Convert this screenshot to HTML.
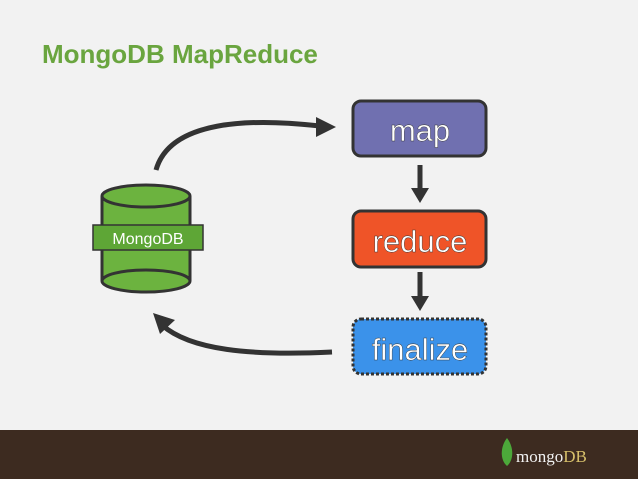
<!DOCTYPE html>
<html><head><style>
body{margin:0;width:638px;height:479px;background:#f2f2f2;overflow:hidden;font-family:"Liberation Sans",sans-serif;}
</style></head><body>
<svg width="638" height="479" xmlns="http://www.w3.org/2000/svg" style="position:absolute;left:0;top:0">
<rect width="638" height="479" fill="#f2f2f2"/>
<text x="42" y="63" font-family="Liberation Sans, sans-serif" font-weight="bold" font-size="26" fill="#6aa53f">MongoDB MapReduce</text>
<path d="M156 170 C170 120 250 118 320 126" fill="none" stroke="#333" stroke-width="5"/>
<polygon points="336,127 316,117 316,137" fill="#333"/>
<path d="M332 352 C250 356 190 350 162 325" fill="none" stroke="#333" stroke-width="5"/>
<polygon points="153,313 175,320 160,334" fill="#333"/>
<line x1="420" y1="165" x2="420" y2="190" stroke="#333" stroke-width="5"/>
<polygon points="411,188 429,188 420,203" fill="#333"/>
<line x1="420" y1="272" x2="420" y2="298" stroke="#333" stroke-width="5"/>
<polygon points="411,296 429,296 420,311" fill="#333"/>
<path d="M102 196 L102 281 A44 11 0 0 0 190 281 L190 196" fill="#6cb33f" stroke="#333" stroke-width="3"/>
<ellipse cx="146" cy="196" rx="44" ry="11" fill="#6cb33f" stroke="#333" stroke-width="3"/>
<path d="M102 281 A44 11 0 0 1 190 281" fill="none" stroke="#333" stroke-width="3"/>
<rect x="93" y="225" width="110" height="25" fill="#5ea636" stroke="#333" stroke-width="1.5"/>
<text x="148" y="244" text-anchor="middle" font-size="16" fill="#fff">MongoDB</text>
<rect x="353" y="101" width="133" height="55" rx="8" fill="#7070b0" stroke="#333" stroke-width="3"/>
<text x="420" y="141" text-anchor="middle" font-size="31" fill="#fff" stroke="#333" stroke-width="0.4">map</text>
<rect x="353" y="211" width="133" height="56" rx="8" fill="#ef5428" stroke="#333" stroke-width="3"/>
<text x="420" y="252" text-anchor="middle" font-size="31" fill="#fff" stroke="#333" stroke-width="0.4">reduce</text>
<rect x="353" y="319" width="133" height="55" rx="8" fill="#3b92ea" stroke="#333" stroke-width="3" stroke-dasharray="3 2"/>
<text x="420" y="360" text-anchor="middle" font-size="31" fill="#fff" stroke="#333" stroke-width="0.4">finalize</text>
<rect x="0" y="430" width="638" height="49" fill="#3d2b20"/>
<path d="M507 438 C500 447 500 460 507 466 C514 460 514 447 507 438Z" fill="#4ca83a"/>
<text x="516" y="462" font-family="Liberation Serif, serif" font-size="17" fill="#f2f2f2">mongo<tspan fill="#d6bf6a">DB</tspan></text>
</svg>
</body></html>
